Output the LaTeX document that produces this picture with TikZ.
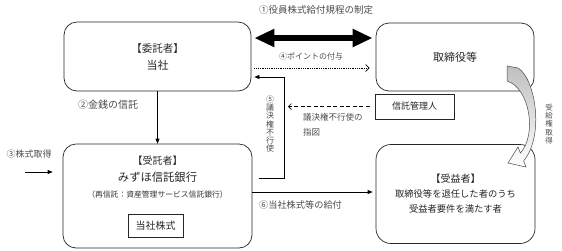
\documentclass[tikz,border=0pt]{standalone}
\usepackage{fontspec}
\setmainfont{Noto Sans CJK JP}
\usetikzlibrary{arrows.meta,positioning}

\begin{document}
\begin{tikzpicture}[
    x=1pt, y=-1pt,
    rbox/.style={draw=black!85, line width=0.7pt, rounded corners=13pt, align=center, inner sep=0pt, text=black!85},
    sbox/.style={draw=black!85, line width=0.7pt, align=center, inner sep=0pt, text=black!85},
    lbl/.style={font=\fontsize{8}{10}\selectfont, text=black!70, inner sep=0pt},
    vlbl/.style={font=\fontsize{8}{8.3}\selectfont, text=black!70, align=center, inner sep=0pt},
    arrow/.style={-{Triangle[length=5pt,width=4pt]}, line width=0.7pt},
    bigarrow/.style={{Triangle[length=20pt,width=17pt]}-{Triangle[length=20pt,width=17pt]}, line width=5.5pt},
    dotarrow/.style={-{Straight Barb[length=3.5pt,width=7pt]}, dash pattern=on 0.8pt off 1pt, line width=0.7pt},
    dasharrow/.style={-{Straight Barb[length=3pt,width=6pt]}, dash pattern=on 4pt off 2.5pt, line width=0.7pt}
]
\useasboundingbox (0,0) rectangle (562,250);

% boxes
\node[rbox, minimum width=187pt, minimum height=69pt, font=\fontsize{11}{17}\selectfont] (itaku) at (157.5,56.5)
    {{\fontsize{10.5}{17}\selectfont【委託者】}\\当社};
\node[rbox, minimum width=158pt, minimum height=68pt, font=\fontsize{11}{17}\selectfont] (tori) at (455,57) {取締役等};
\node[rbox, minimum width=189pt, minimum height=104pt] (jutaku) at (157.5,196) {};
\node[sbox, minimum width=79pt, minimum height=25pt, font=\fontsize{9}{11}\selectfont] (kanri) at (414.5,106.5) {信託管理人};
\node[rbox, rounded corners=15pt, minimum width=159pt, minimum height=99pt, font=\fontsize{9.3}{15}\selectfont] (jueki) at (455.5,194)
    {{\fontsize{10}{16}\selectfont【受益者】}\\取締役等を退任した者のうち\\受益者要件を満たす者};

% trustee contents
\node[font=\fontsize{10}{10}\selectfont, inner sep=0pt, text=black!85] (jtitle) at (157.5,161) {【受託者】};
\node[font=\fontsize{11.3}{12}\selectfont, inner sep=0pt, text=black!85] (jname) at (157.5,177.5) {みずほ信託銀行};
\node[font=\fontsize{7.8}{8}\selectfont, inner sep=0pt, text=black!80] (jsub) at (157.5,195) {（再信託：資産管理サービス信託銀行）};
\node[sbox, minimum width=55pt, minimum height=23pt, font=\fontsize{10}{10}\selectfont] (kabu) at (155.5,225.5) {当社株式};

% labels
\node[lbl, font=\fontsize{9.5}{10}\selectfont] (l1) at (316,10) {①役員株式給付規程の制定};
\node[lbl] (l4) at (311,56) {④ポイントの付与};
\node[lbl, font=\fontsize{10}{10}\selectfont] (l2) at (108,105) {②金銭の信託};
\node[lbl, font=\fontsize{9}{10}\selectfont] (l3) at (29,154) {③株式取得};
\node[vlbl] (l5) at (270,124) {⑤\\議\\決\\権\\不\\行\\使};
\node[lbl, anchor=north west, align=left, font=\fontsize{8.5}{15}\selectfont] (lsashizu) at (303,113) {議決権不行使の\\指図};
\node[lbl, font=\fontsize{9.2}{10}\selectfont] (l6) at (300.5,205) {⑥当社株式等の給付};
\node[vlbl, font=\fontsize{7.5}{8.3}\selectfont] (lrecv) at (549,124) {受\\給\\権\\取\\得};

% connectors
\coordinate (vline) at (284,0);
\coordinate (buy) at (25,172);
\draw[bigarrow, shorten <=3pt, shorten >=3pt] (itaku.east |- 0,38) -- (tori.west |- 0,38);
\draw[dotarrow, shorten >=6pt, shorten <=3pt] (itaku.east |- 0,68) -- (tori.west |- 0,68);
\draw[arrow] (itaku.south) -- (jutaku.north);
\draw[arrow] (buy) -- ([xshift=-10pt]jutaku.west |- buy);
\draw[arrow, shorten >=3pt] ([xshift=7pt]jutaku.east |- 0,178) -| (vline |- 0,77) -- (itaku.east |- 0,77);
\draw[dasharrow, shorten <=5pt, shorten >=4pt] (kanri.west) -- (vline |- kanri.west);
\draw[arrow, shorten >=3pt] (jutaku.east |- 0,192) -- (jueki.west |- 0,192);

% curved arrow
\shade[top color=gray!50, middle color=white, bottom color=white, draw=black!70, line width=0.5pt]
  (507,66) -- (518,68) .. controls (535,78) and (545,135) .. (523.6,161)
  -- (526,167) -- (508,163) -- (518,147) -- (520.4,153)
  .. controls (537,135) and (530,88) .. (507,81) -- cycle;
\end{tikzpicture}
\end{document}
